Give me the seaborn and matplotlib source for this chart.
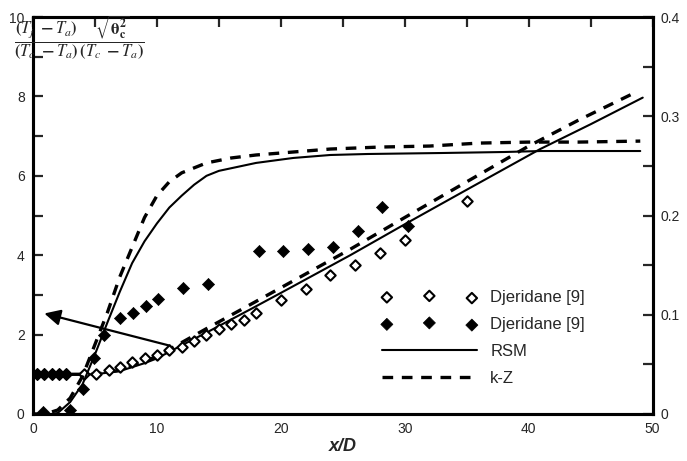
import numpy as np
import pandas as pd
import matplotlib
matplotlib.use('Agg')
import matplotlib.pyplot as plt
import seaborn as sns
from matplotlib.ticker import MultipleLocator, FuncFormatter

# Djeridane [9] mean temperature (left axis)
open_x = [0.3, 0.9, 1.5, 2.1, 2.7, 4.1, 5.1, 6.1, 7, 8, 9, 10, 11, 12, 13, 14, 15, 16, 17, 18,
          20, 22, 24, 26, 28, 30, 35]
open_y = [1, 1, 1, 1, 1, 1, 1, 1.1, 1.18, 1.3, 1.4, 1.48, 1.6, 1.7, 1.83, 2.0, 2.14, 2.27, 2.37, 2.54,
          2.86, 3.16, 3.51, 3.76, 4.06, 4.38, 5.36]

# Djeridane [9] temperature fluctuation (right axis)
fill_x = [0.3, 0.9, 1.5, 2.1, 2.7, 0.8, 3.0, 4.0, 4.9, 5.7, 7, 8.1, 9.1, 10.1, 12.1, 14.1,
          18.2, 20.2, 22.2, 24.2, 26.2, 28.2, 30.3]
fill_y = [0.04, 0.04, 0.04, 0.04, 0.04, 0.002, 0.004, 0.025, 0.056, 0.08, 0.097, 0.102, 0.109, 0.116,
          0.127, 0.131, 0.164, 0.164, 0.166, 0.168, 0.184, 0.209, 0.189]

# RSM / k-Z mean temperature (left axis)
rsm_mean_x = [0, 5, 7, 9, 10, 12, 14, 17.5, 20, 25.6, 30, 35, 40.9, 45, 49.2]
rsm_mean_y = [1, 1, 1.08, 1.28, 1.4, 1.73, 2.05, 2.63, 3.05, 4.0, 4.78, 5.65, 6.67, 7.3, 7.97]
kz_mean_x = [0, 5, 7, 9, 10, 12, 14, 17.5, 20, 25.6, 30, 35, 40, 44, 48.6]
kz_mean_y = [1, 1, 1.1, 1.32, 1.45, 1.8, 2.15, 2.75, 3.18, 4.15, 4.95, 5.85, 6.75, 7.4, 8.1]

# RSM / k-Z fluctuation (right axis)
rsm_rms_x = [0, 1.5, 2, 3, 4, 5, 6, 7, 8, 9, 10, 11, 12, 13, 14, 15, 18, 21, 24, 27, 33, 38, 41, 45, 49]
rsm_rms_y = [0, 0, 0.001, 0.012, 0.03, 0.06, 0.092, 0.123, 0.152, 0.174, 0.192, 0.208, 0.22, 0.231,
             0.24, 0.245, 0.253, 0.258, 0.261, 0.262, 0.263, 0.264, 0.265, 0.265, 0.265]
kz_rms_x = [0, 1, 2, 3, 4, 5, 6, 7, 8, 9, 10, 11, 12, 14, 16, 18, 21, 24, 28, 32, 36, 40, 44, 49]
kz_rms_y = [0, 0, 0.004, 0.016, 0.038, 0.07, 0.102, 0.138, 0.168, 0.198, 0.22, 0.234, 0.243, 0.253,
            0.258, 0.261, 0.264, 0.267, 0.269, 0.27, 0.273, 0.274, 0.274, 0.275]

sns.set_style('white')
plt.rcParams['font.family'] = ['Liberation Sans', 'DejaVu Sans']
plt.rcParams['mathtext.fontset'] = 'stix'

fig = plt.figure(figsize=(6.87, 4.61), dpi=100)
ax = fig.add_axes([0.048, 0.102, 0.902, 0.861])
ax2 = ax.twinx()

sns.scatterplot(x=open_x, y=open_y, ax=ax, marker='D', s=28, facecolor='white',
                edgecolor='black', linewidth=1.5, label='Djeridane [9]', legend=False, zorder=4)
sns.scatterplot(x=fill_x, y=fill_y, ax=ax2, marker='D', s=38, color='black',
                edgecolor='black', linewidth=0.5, label='Djeridane [9]', legend=False, zorder=4)
sns.lineplot(x=rsm_mean_x, y=rsm_mean_y, ax=ax, color='black', lw=1.5, label='RSM', legend=False)
sns.lineplot(x=kz_mean_x, y=kz_mean_y, ax=ax, color='black', lw=2.4, label='k-Z',
             legend=False).lines[-1].set_dashes((3.2, 2.6))
sns.lineplot(x=rsm_rms_x, y=rsm_rms_y, ax=ax2, color='black', lw=1.5, legend=False)
sns.lineplot(x=kz_rms_x, y=kz_rms_y, ax=ax2, color='black', lw=2.4,
             legend=False).lines[-1].set_dashes((3.2, 2.6))

ax.annotate('', xy=(0.7, 2.55), xytext=(11.3, 1.7),
            arrowprops=dict(arrowstyle='-|>', color='black', lw=1.6, mutation_scale=24))

ax.set_xlim(0, 50)
ax.set_ylim(0, 10)
ax2.set_ylim(0, 0.4)
ax.xaxis.set_major_locator(MultipleLocator(10))
ax.xaxis.set_minor_locator(MultipleLocator(5))
ax.yaxis.set_major_locator(MultipleLocator(2))
ax.yaxis.set_minor_locator(MultipleLocator(1))
ax2.yaxis.set_major_locator(MultipleLocator(0.1))
ax2.yaxis.set_minor_locator(MultipleLocator(0.05))
fmt = FuncFormatter(lambda v, p: f'{v:g}')
ax.xaxis.set_major_formatter(fmt)
ax.yaxis.set_major_formatter(fmt)
ax2.yaxis.set_major_formatter(fmt)

for a in (ax, ax2):
    for s in a.spines.values():
        s.set_linewidth(2.2)
        s.set_color('black')
ax.tick_params(which='both', direction='in', length=7, width=1.6, labelsize=10,
               top=True, right=False, pad=6)
ax2.tick_params(which='both', direction='in', length=7, width=1.6, labelsize=10, pad=6)

ax.set_xlabel('x/D', fontsize=13, fontweight='bold', style='italic', labelpad=1)
fig.text(0.02, 0.972,
         r'$\mathbf{\dfrac{(\mathit{T_j}\ -\mathit{T_a})}{(\mathit{T_c}\ -\mathit{T_a})}'
         r'\dfrac{\sqrt{\theta_c^2}}{(\mathit{T_c}\ -\mathit{T_a})}}$',
         fontsize=12, ha='left', va='top')

h1, lab1 = ax.get_legend_handles_labels()
h2, lab2 = ax2.get_legend_handles_labels()
handles = [h1[0], h2[0], h1[1], h1[2]]
labels = [lab1[0], lab2[0], lab1[1], lab1[2]]
ax.legend(handles, labels, loc='upper left', bbox_to_anchor=(0.563, 0.313), frameon=False,
          fontsize=12, scatterpoints=3, handlelength=5.7, handletextpad=0.8, labelspacing=0.72,
          borderpad=0, borderaxespad=0)

fig.savefig('out.png', dpi=100)
